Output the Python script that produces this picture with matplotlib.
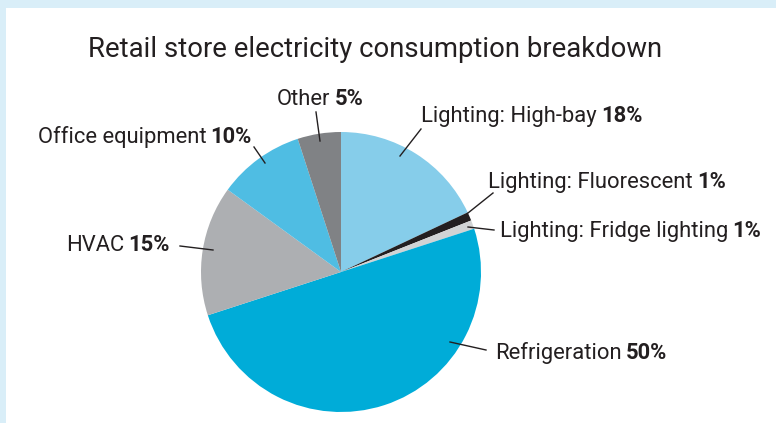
import matplotlib
matplotlib.use("Agg")
import matplotlib.pyplot as plt
from matplotlib.patches import Rectangle

# ---- data ----
labels = ["Lighting: High-bay", "Lighting: Fluorescent", "Lighting: Fridge lighting",
          "Refrigeration", "HVAC", "Office equipment", "Other"]
values = [18, 1, 1, 50, 15, 10, 5]
pct_labels = ["18%", "1%", "1%", "50%", "15%", "10%", "5%"]
colors = ["#86cdea", "#231f20", "#d1d3d4", "#00acd8", "#adafb2", "#4fbde3", "#808285"]
title = "Retail store electricity consumption breakdown"

# ---- layout (pixel coordinates, y from top) ----
W, H = 776, 423
center_px = (341, 272)
radius_px = 140
# (leader inner, leader outer, text anchor (x, baseline), ha)
label_layout = [
    ((400, 156), (421, 129), (421, 122), "left"),
    ((468, 213), (493, 193), (488, 188), "left"),
    ((468, 227), (494, 230), (500, 237), "left"),
    ((450, 342), (486, 350), (495, 359), "left"),
    ((213, 250), (180, 246), (170, 251), "right"),
    ((265, 163), (254, 147), (252, 143), "right"),
    ((320, 141), (316, 112), (320, 105), "center"),
]
FONT = "Roboto"
TXT = "#231f20"

fig = plt.figure(figsize=(W / 100, H / 100), dpi=100)
fig.patch.set_facecolor("#d9eef8")
ax = fig.add_axes([0, 0, 1, 1])
ax.set_xlim(0, W)
ax.set_ylim(0, H)
ax.set_aspect("equal")
ax.axis("off")
ax.add_patch(Rectangle((6, 0), W - 6, H - 8, facecolor="white", edgecolor="none", zorder=0))

def Y(y):
    return H - y

ax.pie(values, colors=colors, startangle=90, counterclock=False,
       center=(center_px[0], Y(center_px[1])), radius=radius_px,
       wedgeprops=dict(linewidth=0), frame=True)
ax.set_xlim(0, W)
ax.set_ylim(0, H)
ax.axis("off")

fig.canvas.draw()
renderer = fig.canvas.get_renderer()

def width_of(s, size, weight="normal"):
    t = ax.text(0, 0, s, fontsize=size, family=FONT, fontweight=weight)
    w = t.get_window_extent(renderer).width
    t.remove()
    return w

# title fitted to reference width
tw = width_of(title, 20)
tsize = 20 * 572 / tw
ax.text(88, Y(57), title, fontsize=tsize, family=FONT, color=TXT, ha="left", va="baseline")

# label size fitted from one label
base = 12
gap_f = 0.2
wl = width_of("Lighting: Fridge lighting", base) + width_of("1%", base, "bold") + gap_f * base * 100 / 72
lsize = base * 260 / wl
gap = gap_f * lsize * 100 / 72

for name, pct, (p_in, p_out, anchor, ha) in zip(labels, pct_labels, label_layout):
    ax.plot([p_in[0], p_out[0]], [Y(p_in[1]), Y(p_out[1])], color=TXT, lw=1.0, zorder=5)
    wn = width_of(name, lsize)
    wb = width_of(pct, lsize, "bold")
    total = wn + gap + wb
    x, yb = anchor
    if ha == "left":
        x0 = x
    elif ha == "right":
        x0 = x - total
    else:
        x0 = x - total / 2
    ax.text(x0, Y(yb), name, fontsize=lsize, family=FONT, color=TXT, ha="left", va="baseline")
    ax.text(x0 + wn + gap, Y(yb), pct, fontsize=lsize, family=FONT, fontweight="bold",
            color=TXT, ha="left", va="baseline")

fig.savefig("out.png", dpi=100, facecolor=fig.get_facecolor())
